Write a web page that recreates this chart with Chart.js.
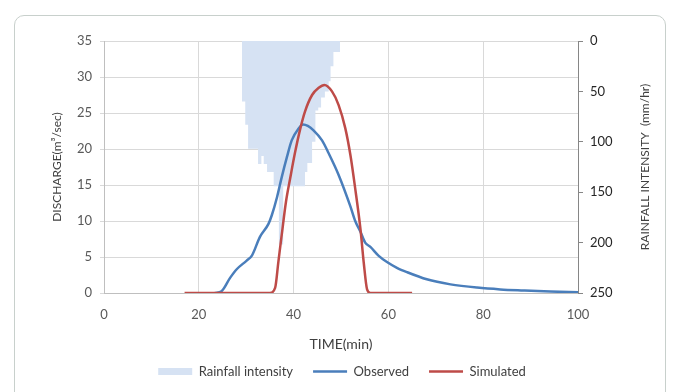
<!DOCTYPE html>
<html>
<head>
<meta charset="utf-8">
<title>Hydrograph</title>
<script src="https://cdn.jsdelivr.net/npm/chart.js@4.4.0/dist/chart.umd.min.js"></script>
<style>
  html, body { margin: 0; padding: 0; background: #fff; }
  #wrap { position: relative; width: 677px; height: 392px; overflow: hidden; }
  #frame {
    position: absolute; left: 14px; top: 15px; width: 650px; height: 430px;
    border: 1px solid #c8d0cc; border-radius: 10px;
  }
  #chart-container { position: absolute; left: 0; top: 0; width: 677px; height: 392px; }
</style>
</head>
<body>
<div id="wrap">
  <div id="frame"></div>
  <div id="chart-container"><canvas id="hydroChart"></canvas></div>
</div>
<script>
// Rainfall hyetograph + observed / simulated hydrograph

// Observed discharge (m3/sec) against time (min)
const obsTime = [23.4, 24.8, 26.6, 28.0, 30.1, 31.2, 32.9, 34.7, 35.4, 36.5, 37.5, 38.6, 39.6, 41.0, 42.0, 43.0,
                 44.2, 46.0, 47.4, 49.5, 52.0, 53.0, 54.1, 55.1, 56.2, 57.9, 59.7, 61.8, 63.9, 68.1, 73.1, 78.7,
                 83.6, 88.5, 94.2, 100];
const obsFlow = [0, 0.25, 2.1, 3.3, 4.5, 5.2, 7.8, 9.6, 10.8, 13.3, 16.1, 18.9, 21.2, 22.8, 23.4, 23.2,
                 22.6, 21.2, 19.4, 16.4, 12.0, 10.0, 8.5, 7.0, 6.4, 5.2, 4.3, 3.5, 2.9, 1.9, 1.2, 0.75,
                 0.5, 0.35, 0.2, 0.1];

// Simulated discharge (m3/sec)
const simTime = [17, 35.0, 36.1, 36.8, 37.5, 38.4, 39.3, 40.3, 41.4, 42.4, 43.9, 45.3, 46.5, 48.1, 49.5,
                 50.9, 52.0, 53.0, 54.1, 54.8, 55.5, 56.2, 65];
const simFlow = [0, 0, 0.7, 4.4, 8.1, 12.7, 16.0, 19.5, 22.8, 25.2, 27.5, 28.5, 28.9, 28.0, 26.1,
                 22.9, 19.1, 14.5, 8.9, 4.2, 0.5, 0, 0];

// Rainfall intensity (mm/hr), each value holds from its start time to the next one
const rainTime  = [29.1, 29.8, 30.4, 32.5, 33.2, 33.7, 34.4, 35.8, 36.9, 37.8, 42.4, 42.9, 43.9, 44.6,
                   45.2, 45.8, 46.6, 47.4, 47.8, 48.4, 49.8];
const rainValue = [60, 83, 107, 122, 114, 122, 130, 144, 202, 144, 130, 121, 100, 69,
                   66, 56, 50, 40, 25, 11, 0];

const xTicks = [0, 20, 40, 60, 80, 100];

const LABEL_RAIN = 'Rainfall intensity';
const LABEL_OBS = 'Observed';
const LABEL_SIM = 'Simulated';
const TITLE_X = 'TIME(min)';
const TITLE_LEFT = 'DISCHARGE(m\u00B3/sec)';
const TITLE_RIGHT = 'RAINFALL INTENSITY  (mm/hr)';

const COLOR_OBS = '#4a7ebb';
const COLOR_SIM = '#be4b48';
const COLOR_RAIN = '#d6e2f3';

function toPoints(xs, ys) {
  return xs.map((x, i) => ({ x: x, y: ys[i] }));
}

Chart.defaults.font.family = 'Lato, "Open Sans", sans-serif';
Chart.defaults.font.size = 13;
Chart.defaults.color = '#595959';

// right axis title reads bottom-to-top like the left one
const rightTitlePlugin = {
  id: 'rightTitle',
  afterDraw(chart) {
    const scale = chart.scales.yR;
    const area = chart.chartArea;
    const ctx = chart.ctx;
    ctx.save();
    ctx.translate(scale.left + 67, (area.top + area.bottom) / 2);
    ctx.rotate(-Math.PI / 2);
    ctx.font = '12px Lato, "Open Sans", sans-serif';
    ctx.fillStyle = '#404040';
    ctx.textAlign = 'center';
    ctx.textBaseline = 'middle';
    ctx.fillText(TITLE_RIGHT, 0, 0);
    ctx.restore();
  }
};

const ctx = document.getElementById('hydroChart');

new Chart(ctx, {
  type: 'line',
  data: {
    datasets: [
      {
        label: LABEL_RAIN,
        data: toPoints(rainTime, rainValue),
        yAxisID: 'yR',
        stepped: true,
        fill: 'origin',
        backgroundColor: COLOR_RAIN,
        borderColor: COLOR_RAIN,
        borderWidth: 0,
        pointRadius: 0,
        pointStyle: 'rect',
        pointBorderWidth: 0,
        order: 3
      },
      {
        label: LABEL_OBS,
        data: toPoints(obsTime, obsFlow),
        yAxisID: 'y',
        borderColor: COLOR_OBS,
        backgroundColor: COLOR_OBS,
        borderWidth: 2.5,
        pointRadius: 0,
        pointStyle: 'line',
        pointBorderWidth: 2.5,
        cubicInterpolationMode: 'monotone',
        order: 2
      },
      {
        label: LABEL_SIM,
        data: toPoints(simTime, simFlow),
        yAxisID: 'y',
        borderColor: COLOR_SIM,
        backgroundColor: COLOR_SIM,
        borderWidth: 2.5,
        pointRadius: 0,
        pointStyle: 'line',
        pointBorderWidth: 2.5,
        cubicInterpolationMode: 'monotone',
        order: 1
      }
    ]
  },
  options: {
    responsive: true,
    maintainAspectRatio: false,
    animation: false,
    events: [],
    layout: {
      padding: { top: 41, left: 50, right: 43, bottom: 4 }
    },
    plugins: {
      tooltip: { enabled: false },
      legend: {
        display: true,
        position: 'bottom',
        labels: {
          usePointStyle: true,
          pointStyleWidth: 34,
          boxHeight: 7,
          padding: 20,
          color: '#404040',
          font: { size: 13 },
          sort: (a, b) => a.datasetIndex - b.datasetIndex
        }
      }
    },
    scales: {
      x: {
        type: 'linear',
        min: 0,
        max: 100,
        afterBuildTicks: (scale) => { scale.ticks = xTicks.map(v => ({ value: v })); },
        afterFit: (scale) => { scale.height = 52; },
        ticks: { padding: 14, color: '#595959', font: { size: 13 } },
        grid: { color: '#d9d9d9', drawTicks: false },
        border: { color: '#bfbfbf' },
        title: {
          display: true,
          text: TITLE_X,
          color: '#404040',
          font: { size: 14 },
          padding: { top: 0, bottom: -7.5 }
        }
      },
      y: {
        position: 'left',
        min: 0,
        max: 35,
        ticks: { stepSize: 5, padding: 8, color: '#595959', font: { size: 13 } },
        afterFit: (scale) => { scale.width = 54; },
        grid: { color: '#d9d9d9', tickLength: 4 },
        border: { color: '#bfbfbf' },
        title: {
          display: true,
          text: TITLE_LEFT,
          color: '#404040',
          font: { size: 12 },
          padding: { top: 0, bottom: 0 }
        }
      },
      yR: {
        position: 'right',
        reverse: true,
        min: 0,
        max: 250,
        ticks: { stepSize: 50, padding: 7, color: '#262626', font: { size: 13 } },
        afterFit: (scale) => { scale.width = 56; },
        grid: { drawOnChartArea: false, color: '#868686', tickLength: 5 },
        border: { color: '#868686' }
      }
    }
  },
  plugins: [rightTitlePlugin]
});
</script>
</body>
</html>
